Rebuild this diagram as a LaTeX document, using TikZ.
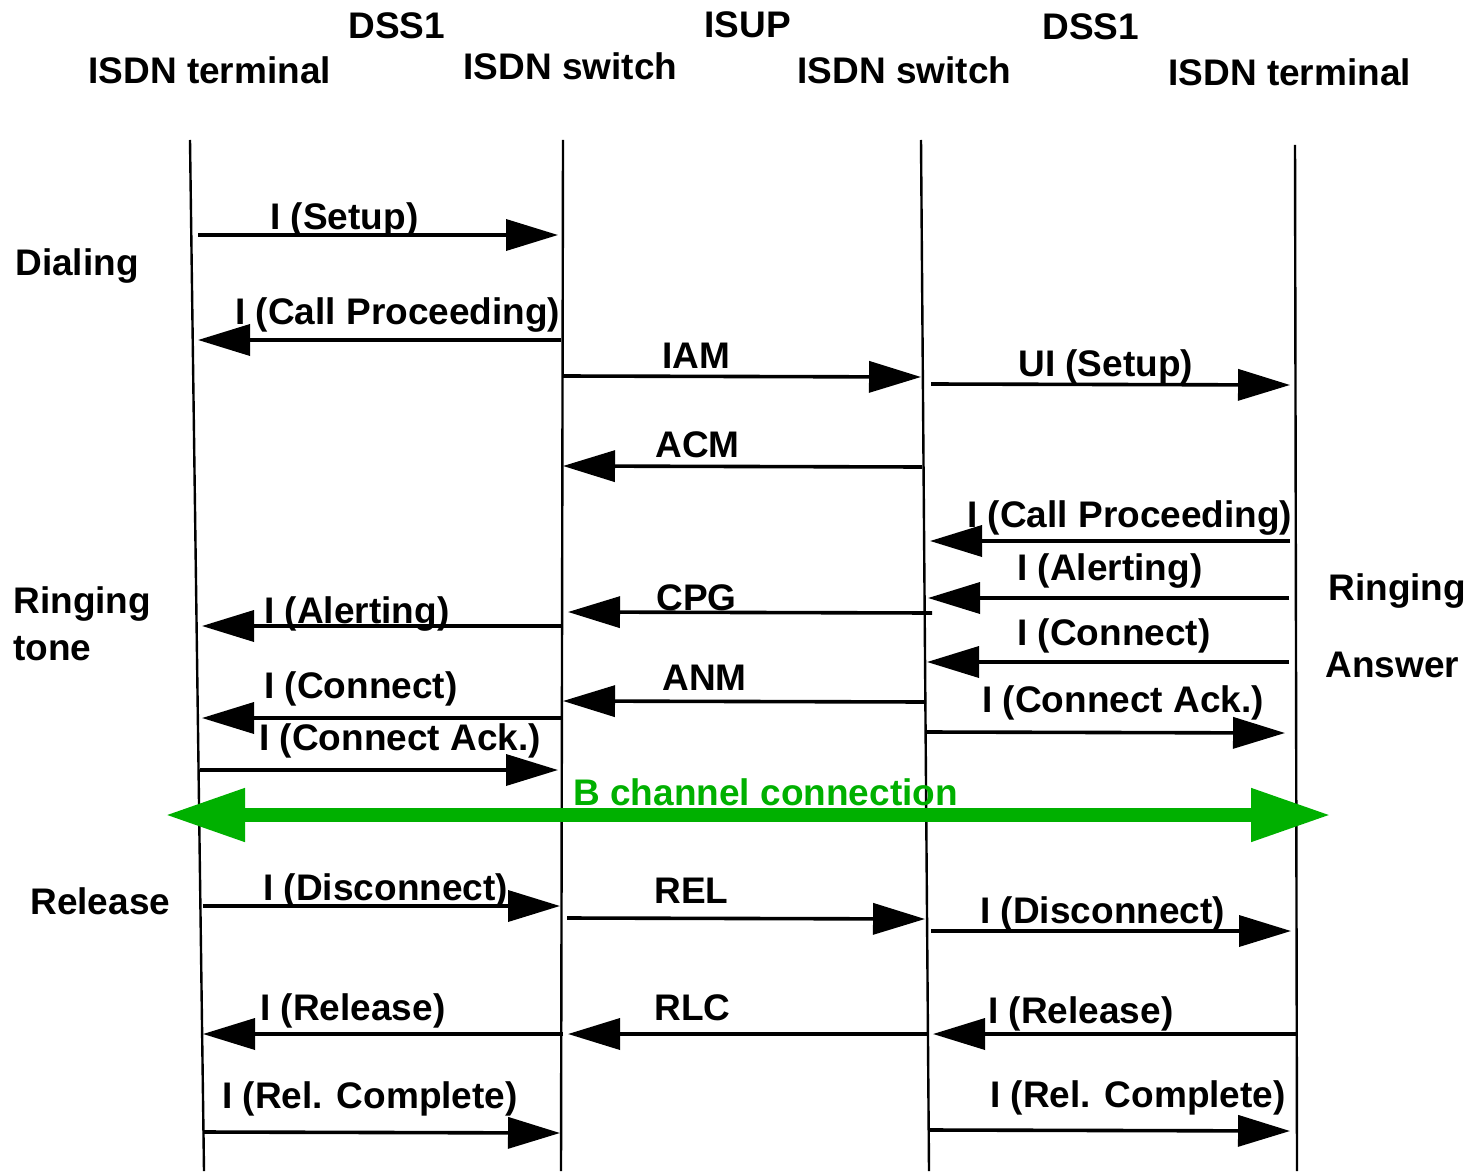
\documentclass[tikz,border=0pt]{standalone}
\usepackage{fontspec}
\setmainfont{Liberation Sans}
\usetikzlibrary{arrows.meta}
\definecolor{bgreen}{RGB}{0,176,0}
\tikzset{
    life/.style={line width=1.2pt},
    msg/.style={line width=1.8pt,-{Triangle[length=26pt,width=15.5pt]}},
    lbl/.style={anchor=base west,inner sep=0pt,font=\fontsize{18.5pt}{22pt}\selectfont\bfseries},
    bchan/.style={line width=7pt,color=bgreen,{Triangle[length=40pt,width=25pt]}-{Triangle[length=40pt,width=25pt]}}
}

\begin{document}
\begin{tikzpicture}[x=0.5pt,y=-0.5pt]
    \useasboundingbox (0,0) rectangle (1481,1171);
    % lifelines
    \coordinate (t1) at (190,140);  \coordinate (b1) at (204,1171);
    \coordinate (t2) at (563,140);  \coordinate (b2) at (561,1171);
    \coordinate (t3) at (921,140);  \coordinate (b3) at (929,1171);
    \coordinate (t4) at (1295,145); \coordinate (b4) at (1297,1171);
    \draw[life] (t1) -- (b1);
    \draw[life] (t2) -- (b2);
    \draw[life] (t3) -- (b3);
    \draw[life] (t4) -- (b4);

    % headings
    \node[lbl] (term1) at (88,84) {ISDN terminal};
    \node[lbl] (dss1a) at (348,39) {DSS1};
    \node[lbl] (sw1) at (463,80) {ISDN switch};
    \node[lbl] (isup) at (704,38) {ISUP};
    \node[lbl] (sw2) at (797,84) {ISDN switch};
    \node[lbl] (dss1b) at (1042,40) {DSS1};
    \node[lbl] (term2) at (1168,86) {ISDN terminal};

    % phases
    \node[lbl] (dial) at (15,276) {Dialing};
    \node[lbl] (ring1) at (13,613) {Ringing};
    \node[lbl] (tone) at (13,660) {tone};
    \node[lbl] (ring2) at (1328,600) {Ringing};
    \node[lbl] (answ) at (1325,677) {Answer};
    \node[lbl] (rel) at (30,914) {Release};

    % set-up
    \coordinate (a1) at (198,235);  \coordinate (a2) at (558,235);
    \draw[msg] (a1) -- (a2);
    \node[lbl] (setup1) at (270,230) {I (Setup)};
    \coordinate (c1) at (561,340);  \coordinate (c2) at (198,340);
    \draw[msg] (c1) -- (c2);
    \node[lbl] (cp1) at (235,325) {I (Call Proceeding)};
    \coordinate (i1) at (563,376);  \coordinate (i2) at (921,377);
    \draw[msg] (i1) -- (i2);
    \node[lbl] (iam) at (662,368) {IAM};
    \coordinate (u1) at (931,384);  \coordinate (u2) at (1290,385);
    \draw[msg] (u1) -- (u2);
    \node[lbl] (setup2) at (1018,376) {UI (Setup)};
    \coordinate (k1) at (922,467);  \coordinate (k2) at (563,466);
    \draw[msg] (k1) -- (k2);
    \node[lbl] (acm) at (655,457) {ACM};
    \coordinate (d1) at (1290,541); \coordinate (d2) at (930,541);
    \draw[msg] (d1) -- (d2);
    \node[lbl] (cp2) at (967,527) {I (Call Proceeding)};
    \coordinate (e1) at (1289,598); \coordinate (e2) at (928,598);
    \draw[msg] (e1) -- (e2);
    \node[lbl] (alert2) at (1017,580) {I (Alerting)};
    \coordinate (g1) at (932,613);  \coordinate (g2) at (568,612);
    \draw[msg] (g1) -- (g2);
    \node[lbl] (cpg) at (656,610) {CPG};
    \coordinate (h1) at (563,626);  \coordinate (h2) at (202,626);
    \draw[msg] (h1) -- (h2);
    \node[lbl] (alert1) at (264,623) {I (Alerting)};

    % answer
    \coordinate (n1) at (1289,662); \coordinate (n2) at (927,662);
    \draw[msg] (n1) -- (n2);
    \node[lbl] (conn2) at (1017,645) {I (Connect)};
    \coordinate (m1) at (926,702);  \coordinate (m2) at (563,701);
    \draw[msg] (m1) -- (m2);
    \node[lbl] (anm) at (662,690) {ANM};
    \coordinate (o1) at (563,718);  \coordinate (o2) at (202,718);
    \draw[msg] (o1) -- (o2);
    \node[lbl] (conn1) at (264,698) {I (Connect)};
    \coordinate (p1) at (927,732);  \coordinate (p2) at (1285,733);
    \draw[msg] (p1) -- (p2);
    \node[lbl] (ack2) at (982,712) {I (Connect Ack.)};
    \coordinate (q1) at (200,770);  \coordinate (q2) at (558,770);
    \draw[msg] (q1) -- (q2);
    \node[lbl] (ack1) at (259,750) {I (Connect Ack.)};

    % B channel
    \coordinate (bl) at (165,815);  \coordinate (br) at (1331,815);
    \draw[bchan] (bl) -- (br);
    \node[lbl,text=bgreen] (bcon) at (573,805) {B channel connection};

    % release
    \coordinate (r1) at (203,906);  \coordinate (r2) at (560,906);
    \draw[msg] (r1) -- (r2);
    \node[lbl] (disc1) at (263,900) {I (Disconnect)};
    \coordinate (x1) at (567,918);  \coordinate (x2) at (925,919);
    \draw[msg] (x1) -- (x2);
    \node[lbl] (relm) at (654,903) {REL};
    \coordinate (y1) at (931,931);  \coordinate (y2) at (1291,931);
    \draw[msg] (y1) -- (y2);
    \node[lbl] (disc2) at (980,923) {I (Disconnect)};
    \coordinate (v1) at (563,1034); \coordinate (v2) at (203,1034);
    \draw[msg] (v1) -- (v2);
    \node[lbl] (rel1) at (260,1020) {I (Release)};
    \coordinate (w1) at (928,1034); \coordinate (w2) at (568,1034);
    \draw[msg] (w1) -- (w2);
    \node[lbl] (rlc) at (654,1020) {RLC};
    \coordinate (z1) at (1296,1034); \coordinate (z2) at (933,1034);
    \draw[msg] (z1) -- (z2);
    \node[lbl] (rel2) at (988,1023) {I (Release)};
    \coordinate (f1) at (203,1132); \coordinate (f2) at (560,1133);
    \draw[msg] (f1) -- (f2);
    \node[lbl] (comp1) at (222,1108) {I (Rel. Complete)};
    \coordinate (j1) at (930,1130); \coordinate (j2) at (1290,1131);
    \draw[msg] (j1) -- (j2);
    \node[lbl] (comp2) at (990,1107) {I (Rel. Complete)};

\end{tikzpicture}
\end{document}
